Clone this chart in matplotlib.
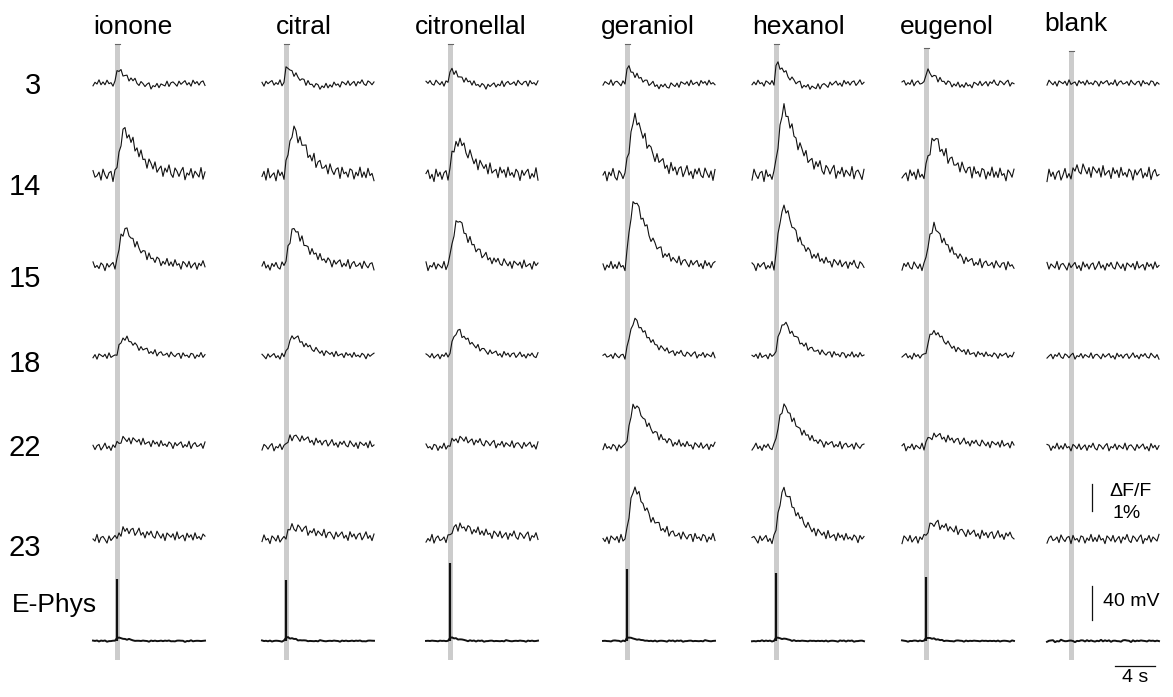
import numpy as np
import matplotlib
matplotlib.use("Agg")
import matplotlib.pyplot as plt

plt.rcParams["font.family"] = ["Liberation Sans", "DejaVu Sans"]

odors = ["ionone", "citral", "citronellal", "geraniol", "hexanol", "eugenol", "blank"]
cells = ["3", "14", "15", "18", "22", "23"]

# peak dF/F (%) for each cell, one value per odor
peak_3 = [0.48, 0.58, 0.48, 0.55, 0.72, 0.42, 0.0]
peak_14 = [1.65, 1.65, 1.28, 2.10, 2.40, 1.32, 0.20]
peak_15 = [1.35, 1.35, 1.68, 2.42, 2.18, 1.45, 0.0]
peak_18 = [0.66, 0.72, 0.92, 1.32, 1.22, 0.92, 0.0]
peak_22 = [0.28, 0.36, 0.30, 1.55, 1.50, 0.42, 0.0]
peak_23 = [0.32, 0.42, 0.46, 1.85, 1.80, 0.56, 0.0]
peaks = [peak_3, peak_14, peak_15, peak_18, peak_22, peak_23]

# response shape per trace: f = fast transient, t = slow transient, p = plateau
kinds = ["fffffft", "ttttttp", "ttttttt", "ttttttt", "pppttpt", "pppttpt"]

# baseline noise (dF/F %) per cell
noise_level = [0.13, 0.27, 0.19, 0.13, 0.16, 0.19]

# E-Phys spike heights (mV)
spike_mv = [73, 72, 92, 85, 80, 75, 0]

# response shapes, 0.2 s steps from odor onset
profile_t = [0.0, 0.2, 0.5, 0.75, 0.93, 1.0, 0.96, 0.87, 0.78, 0.70,
             0.62, 0.56, 0.49, 0.43, 0.38, 0.34, 0.30, 0.26, 0.23, 0.20,
             0.18, 0.16, 0.14, 0.12, 0.10, 0.09, 0.08, 0.08, 0.07, 0.06,
             0.06, 0.05, 0.05, 0.04, 0.04, 0.04, 0.03, 0.03, 0.03, 0.03,
             0.02, 0.02, 0.02, 0.02, 0.02, 0.02]
profile_f = [0.0, 0.9, 1.0, 0.85, 0.70, 0.58, 0.47, 0.37, 0.28, 0.20,
             0.12, 0.05, 0.0, -0.05, -0.10, -0.14, -0.17, -0.20, -0.22, -0.23,
             -0.23, -0.22, -0.20, -0.18, -0.15, -0.12, -0.10, -0.08, -0.06, -0.05,
             -0.04, -0.03, -0.02, -0.02, -0.01, -0.01, -0.01, 0.0, 0.0, 0.0,
             0.0, 0.0, 0.0, 0.0, 0.0, 0.0]
profile_p = [0.0, 0.35, 0.65, 0.85, 0.95, 1.0, 1.0, 0.97, 0.93, 0.88,
             0.83, 0.78, 0.73, 0.68, 0.64, 0.60, 0.56, 0.53, 0.50, 0.47,
             0.45, 0.43, 0.41, 0.39, 0.37, 0.35, 0.34, 0.33, 0.32, 0.31,
             0.30, 0.29, 0.28, 0.28, 0.27, 0.26, 0.26, 0.25, 0.25, 0.24,
             0.24, 0.23, 0.23, 0.22, 0.22, 0.21]
profiles = {"t": profile_t, "f": profile_f, "p": profile_p}

# baseline jitter pattern
jitter = [0.3, -0.5, 0.8, -0.2, 0.1, -0.9, 0.6, 0.2, -0.4, 0.7,
          -0.6, 0.0, 0.5, -0.8, 0.4, -0.1, 0.9, -0.3, -0.7, 0.6,
          0.2, -0.5, 0.3, 0.8, -0.9, 0.1, -0.2, 0.7, -0.6, 0.4,
          0.0, -0.4, 0.9, -0.7, 0.3, 0.5, -0.1, -0.8, 0.6, -0.3,
          0.2, 0.7, -0.5, 0.1, -0.9, 0.8, -0.2, 0.4, -0.6, 0.3,
          0.6, -0.7, 0.0, 0.9, -0.4, 0.2, -0.8, 0.5, -0.1, 0.7,
          -0.3, -0.6, 0.8, 0.1, -0.5, 0.4, -0.9, 0.6, 0.2, -0.2,
          0.5, -0.7, 0.9, -0.4, 0.0, 0.3, -0.8, 0.7, -0.1, 0.4,
          -0.6, 0.8, -0.3, 0.1, -0.5, 0.6, 0.2, -0.9, 0.5, -0.2,
          0.3, 0.7, -0.6, 0.1, -0.4, 0.9, -0.8, 0.2, 0.6, -0.3,
          -0.1, 0.4, -0.7, 0.8, 0.0, -0.5, 0.3, 0.5, -0.9, 0.7,
          -0.2, 0.1, -0.6, 0.6, 0.4, -0.8, 0.2, -0.3, 0.9, -0.5]

# layout, in pixels of the 1173x697 canvas
W, H = 1173, 697
PX_PER_PCT = 27.0
PX_PER_MV = 34.0 / 40.0
DT = 0.2
N_PRE = 11
bar_left = [115, 284, 448, 625, 774, 924, 1069]
bar_top = [44, 44, 44, 44, 44, 48, 51]
bar_bottom = 660
title_x = [133, 304, 471, 648, 798, 947, 1076]
title_base = [34, 34, 34, 34, 34, 34, 31]
row_y = [83, 175, 266, 356, 447, 539]
label_base = [94, 195, 287, 372, 456, 556]
ephys_y = 641

fig = plt.figure(figsize=(W / 100, H / 100), dpi=100)


def fx(px):
    return px / W


def fy(py):
    return 1 - py / H


n_post = len(profile_t)
t = np.arange(-N_PRE, n_post) * DT
jit = np.array(jitter)

for j, odor in enumerate(odors):
    left = bar_left[j] - 25
    axf = fig.add_axes([fx(left), 0, 125 / W, 1])
    axf.set_xlim(-2.5, 10.0)
    axf.set_ylim(-H / PX_PER_PCT, 0)
    axf.axis("off")
    axe = fig.add_axes([fx(left), 0, 125 / W, 1])
    axe.set_xlim(-2.5, 10.0)
    axe.set_ylim(-H / PX_PER_MV, 0)
    axe.axis("off")

    # odor stimulus bar
    axf.axvspan(0, 0.5, ymin=fy(bar_bottom), ymax=fy(bar_top[j]),
                color="#cccccc", lw=0, zorder=0)
    axf.plot([0, 0.5], [-bar_top[j] / PX_PER_PCT] * 2, color="#666666", lw=0.8)

    for i in range(len(cells)):
        prof = np.array(profiles[kinds[i][j]])
        resp = np.concatenate([np.zeros(N_PRE), peaks[i][j] * prof])
        noise = np.roll(jit, 17 * i + 29 * j + 5)[: len(t)] * noise_level[i]
        y = -row_y[i] / PX_PER_PCT + resp + noise
        axf.plot(t, y, color="#111111", lw=0.8)

    # E-Phys trace
    wig = np.convolve(np.roll(jit, 11 * j + 3), np.ones(3) / 3, mode="same")[: len(t)]
    amp = 2.5 if spike_mv[j] > 0 else 4.0
    bump = np.concatenate([np.zeros(N_PRE), np.clip(profile_f, 0, None)])
    bump = bump * (4.0 if spike_mv[j] > 0 else 0.0)
    base = -ephys_y / PX_PER_MV
    axe.plot(t, base + wig * amp + bump, color="#111111", lw=1.4)
    if spike_mv[j] > 0:
        axe.vlines(0.2, base, base + spike_mv[j], color="#111111", lw=1.6)

    fig.text(fx(title_x[j]), fy(title_base[j]), odor, ha="center",
             va="baseline", fontsize=19)

for i, c in enumerate(cells):
    fig.text(fx(41), fy(label_base[i]), c, ha="right", va="baseline", fontsize=21)
fig.text(fx(12), fy(612), "E-Phys", ha="left", va="baseline", fontsize=19)

# scale bars, drawn in the blank column
SCALE_DFF = 1.0
SCALE_MV = 40.0
SCALE_S = 4.0
x_bar = (1092 - (bar_left[-1] - 25)) / 10.0 - 2.5
axf.plot([x_bar, x_bar], [-511 / PX_PER_PCT, -511 / PX_PER_PCT + SCALE_DFF],
         color="#111111", lw=0.9, clip_on=False)
axe.plot([x_bar, x_bar], [-620 / PX_PER_MV, -620 / PX_PER_MV + SCALE_MV],
         color="#111111", lw=0.9, clip_on=False)
t0 = (1115 - (bar_left[-1] - 25)) / 10.0 - 2.5
axe.plot([t0, t0 + SCALE_S], [-666 / PX_PER_MV] * 2, color="#111111", lw=0.9,
         clip_on=False)

fig.text(fx(1109), fy(491), "ΔF/F", ha="left", va="center", fontsize=14)
fig.text(fx(1113), fy(513), "1%", ha="left", va="center", fontsize=14)
fig.text(fx(1103), fy(601), "40 mV", ha="left", va="center", fontsize=14)
fig.text(fx(1135), fy(677), "4 s", ha="center", va="center", fontsize=14)

fig.savefig("out.png", dpi=100)
